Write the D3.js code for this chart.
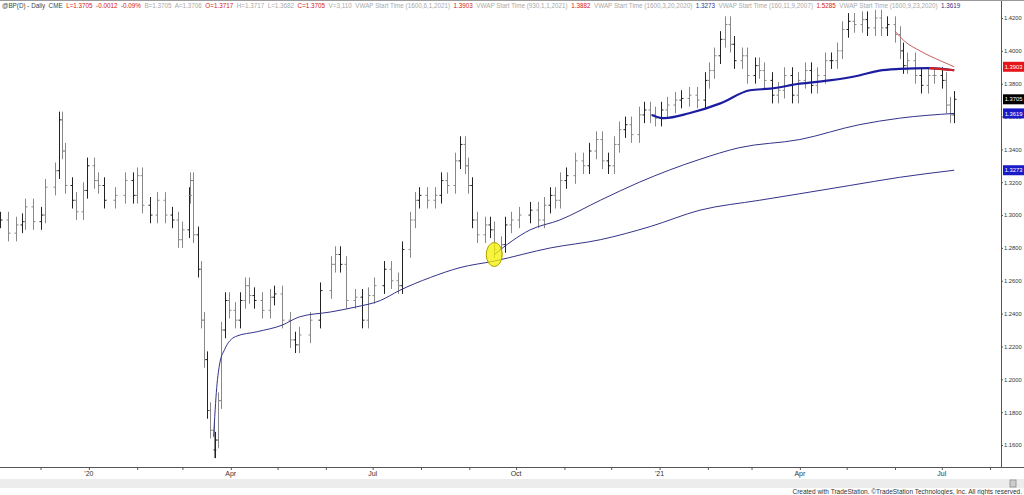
<!DOCTYPE html>
<html><head><meta charset="utf-8">
<script src="https://cdn.jsdelivr.net/npm/d3@7"></script>
<style>body{margin:0;background:#fff;font-family:"Liberation Sans",Arial,sans-serif}</style>
</head><body><svg id="c" width="1024" height="495"></svg>
<script>
// days after 2019-11-05 and closing prices
var days = [0,5,10,14,16,21,26,29,35,38,40,42,46,49,53,56,60,63,67,74,80,85,88,91,96,101,106,110,114,117,121,122,124,127,129,131,133,135,137,138,140,142,144,147,151,154,157,160,163,168,173,176,181,186,189,192,199,205,212,215,218,222,228,232,236,240,246,251,255,258,263,266,269,274,279,283,287,292,295,298,300,303,306,311,314,317,321,324,328,333,340,345,349,353,356,359,363,369,374,378,382,386,390,394,397,401,405,410,413,417,420,424,428,433,437,442,447,452,455,458,462,465,468,471,476,479,484,487,490,495,499,503,508,512,516,520,524,529,533,537,540,544,548,553,556,561,565,569,574,577,579,582,587,591,595,599,604,607,609,612];
var closes = [1.297,1.289,1.294,1.296,1.305,1.296,1.300,1.317,1.327,1.358,1.339,1.318,1.309,1.302,1.315,1.330,1.321,1.318,1.309,1.312,1.321,1.312,1.324,1.306,1.300,1.309,1.300,1.297,1.285,1.291,1.312,1.321,1.288,1.267,1.236,1.212,1.181,1.169,1.157,1.163,1.187,1.230,1.248,1.242,1.236,1.248,1.257,1.251,1.248,1.242,1.250,1.252,1.236,1.224,1.221,1.227,1.236,1.254,1.270,1.276,1.270,1.248,1.250,1.236,1.251,1.257,1.267,1.260,1.257,1.279,1.297,1.309,1.312,1.309,1.312,1.321,1.318,1.333,1.343,1.330,1.318,1.297,1.288,1.294,1.291,1.279,1.282,1.294,1.297,1.300,1.303,1.297,1.306,1.312,1.309,1.321,1.324,1.333,1.330,1.339,1.346,1.333,1.330,1.343,1.352,1.355,1.349,1.361,1.364,1.361,1.359,1.364,1.367,1.370,1.371,1.373,1.370,1.382,1.388,1.397,1.407,1.416,1.404,1.394,1.397,1.385,1.391,1.388,1.382,1.373,1.376,1.385,1.373,1.382,1.388,1.379,1.385,1.394,1.394,1.400,1.413,1.418,1.416,1.419,1.414,1.420,1.414,1.416,1.410,1.400,1.391,1.394,1.385,1.379,1.385,1.385,1.382,1.367,1.361,1.3705];
// VWAP lines: [day, value]
var vwapMar20 = [[137,1.165],[139,1.195],[141,1.210],[144,1.218],[151,1.226],[165,1.229],[181,1.233],[192,1.238],[212,1.241],[228,1.244],[244,1.248],[256,1.254],[276,1.262],[295,1.268],[317,1.272],[353,1.280],[385,1.285],[417,1.293],[449,1.303],[487,1.309],[513,1.313],[545,1.318],[577,1.323],[612,1.3273]];
var vwapSep23 = [[317,1.276],[340,1.291],[359,1.297],[385,1.309],[410,1.320],[449,1.334],[474,1.341],[513,1.346],[551,1.355],[577,1.359],[612,1.3619]];
var vwapJan1 = [[418,1.361],[426,1.359],[442,1.362],[462,1.368],[481,1.376],[494,1.377],[513,1.380],[532,1.382],[551,1.385],[564,1.388],[577,1.389],[596,1.3895],[612,1.3882]];
var vwapJun1 = [[574,1.412],[580,1.406],[590,1.400],[603,1.394],[612,1.3903]];
var priceTicks = [1.16,1.18,1.20,1.22,1.24,1.26,1.28,1.30,1.32,1.34,1.36,1.38,1.40,1.42];
var monthLabels = [["2020-01-01","'20"],["2020-04-01","Apr"],["2020-07-01","Jul"],["2020-10-01","Oct"],["2021-01-01","'21"],["2021-04-01","Apr"],["2021-07-01","Jul"]];
var priceBoxes = [[1.3903,"#e8141b","#fff"],[1.3705,"#000","#fff"],[1.3619,"#1a1ac8","#fff"],[1.3273,"#1a1ac8","#fff"]];

var svg = d3.select("#c");
var start = new Date(2019,10,5);
var day = function(d){ return d3.timeDay.offset(start, d); };
var x = d3.scaleTime().domain([start, new Date(2021,7,8)]).range([0,1001]);
var y = d3.scaleLinear().domain([1.16,1.42]).range([445,18]);

// bars
var g = svg.append("g");
closes.forEach(function(c,i){
	var o = i>0 ? closes[i-1] : c;
	var hi = Math.max(o,c)+0.005, lo = Math.min(o,c)-0.005;
	var px = Math.round(x(day(days[i])))+0.5;
	var col = i%3==0 ? "#222" : "#888";
	g.append("line").attr("x1",px).attr("x2",px).attr("y1",y(hi)).attr("y2",y(lo)).attr("stroke",col);
	g.append("line").attr("x1",px-2).attr("x2",px).attr("y1",y(o)).attr("y2",y(o)).attr("stroke",col);
	g.append("line").attr("x1",px).attr("x2",px+2).attr("y1",y(c)).attr("y2",y(c)).attr("stroke",col);
});

var line = d3.line().x(function(d){return x(day(d[0]));}).y(function(d){return y(d[1]);}).curve(d3.curveMonotoneX);
svg.append("path").attr("d",line(vwapMar20)).attr("fill","none").attr("stroke","#33338a").attr("stroke-width",1);
svg.append("path").attr("d",line(vwapSep23)).attr("fill","none").attr("stroke","#33338a").attr("stroke-width",1);
svg.append("path").attr("d",line(vwapJan1)).attr("fill","none").attr("stroke","#1c1ca0").attr("stroke-width",2.2);
svg.append("path").attr("d",line(vwapJan1.filter(function(d){return d[0]>=596;}))).attr("fill","none").attr("stroke","#d42020").attr("stroke-width",2.2);
svg.append("path").attr("d",line(vwapJun1)).attr("fill","none").attr("stroke","#c86060").attr("stroke-width",1);

// highlight
svg.append("ellipse").attr("cx",x(day(317))).attr("cy",y(1.276)).attr("rx",8).attr("ry",12)
	.attr("fill","#f4f000").attr("fill-opacity",0.75).attr("stroke","#b0a000");

// frame + axes
svg.append("line").attr("x1",1001.5).attr("x2",1001.5).attr("y1",0).attr("y2",467).attr("stroke","#555");
svg.append("line").attr("x1",0).attr("x2",1024).attr("y1",467.5).attr("y2",467.5).attr("stroke","#555");
svg.append("line").attr("x1",0).attr("x2",1024).attr("y1",0.5).attr("y2",0.5).attr("stroke","#999");
var ya = svg.append("g").attr("transform","translate(1001,0)")
	.call(d3.axisRight(y).tickValues(priceTicks).tickFormat(d3.format(".4f")).tickSize(2));
ya.select(".domain").remove();
ya.selectAll("text").attr("font-size",5.8).attr("fill","#333").attr("x",3);
ya.selectAll("line").attr("stroke","#555");
priceBoxes.forEach(function(b){
	var by = y(b[0]);
	svg.append("rect").attr("x",1003).attr("y",by-5).attr("width",21).attr("height",10).attr("fill",b[1]);
	svg.append("text").attr("x",1013.5).attr("y",by+2.2).attr("text-anchor","middle").attr("font-size",5.8).attr("fill",b[2]).text(b[0].toFixed(4));
});
var xa = svg.append("g").attr("transform","translate(0,467)")
	.call(d3.axisBottom(x).ticks(d3.timeMonth.every(1)).tickFormat("").tickSize(3));
xa.select(".domain").remove();
xa.selectAll("line").attr("stroke","#555");
monthLabels.forEach(function(m){
	svg.append("text").attr("x",x(new Date(m[0]))).attr("y",476).attr("text-anchor","middle").attr("font-size",7).attr("fill","#333").text(m[1]);
});
svg.append("rect").attr("x",0).attr("y",479).attr("width",1024).attr("height",9).attr("fill","#ececec");
svg.append("rect").attr("x",1010).attr("y",480).attr("width",6).attr("height",7).attr("fill","#ccc").attr("stroke","#999");
svg.append("text").attr("x",1022).attr("y",494).attr("text-anchor","end").attr("font-size",6.5).attr("fill","#333")
	.text("Created with TradeStation. \u00a9TradeStation Technologies, Inc. All rights reserved.");

// header
var header = [["@BP(D) - Daily  CME  ","#444"],["L=1.3705  -0.0012  -0.09%  ","#d42020"],["B=1.3705  A=1.3706  ","#aaa"],["O=1.3717  ","#d42020"],["H=1.3717  L=1.3682  ","#aaa"],["C=1.3705  ","#d42020"],["V=3,110  VWAP Start Time (1600,6,1,2021)  ","#aaa"],["1.3903  ","#d42020"],["VWAP Start Time (930,1,1,2021)  ","#aaa"],["1.3882  ","#d42020"],["VWAP Start Time (1600,3,20,2020)  ","#aaa"],["1.3273  ","#33338a"],["VWAP Start Time (160,11,9,2007)  ","#aaa"],["1.5285  ","#d42020"],["VWAP Start Time (1600,9,23,2020)  ","#aaa"],["1.3619","#33338a"]];
var ht = svg.append("text").attr("x",2).attr("y",8).attr("font-size",6.3).attr("xml:space","preserve");
header.forEach(function(h){ ht.append("tspan").attr("fill",h[1]).text(h[0]); });
</script></body></html>
